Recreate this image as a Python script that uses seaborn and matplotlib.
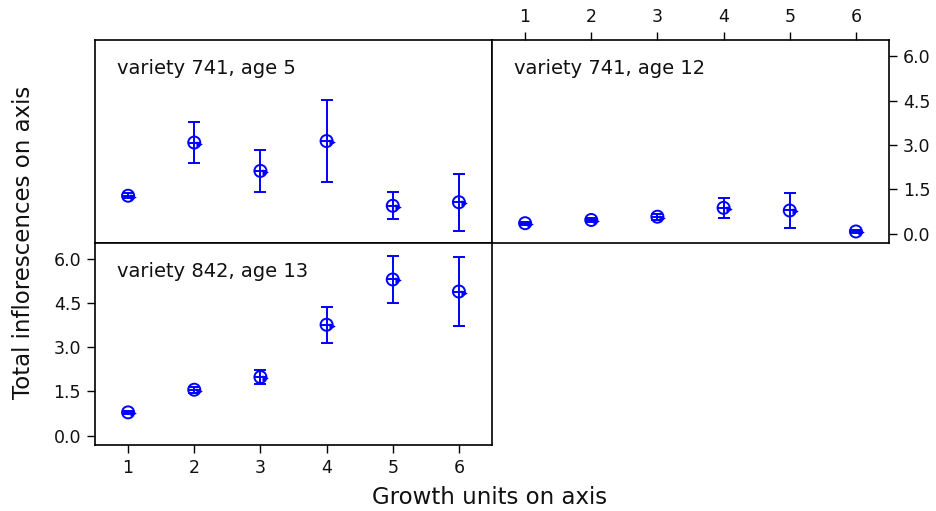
import numpy as np
import pandas as pd
import matplotlib
matplotlib.use("Agg")
import matplotlib.pyplot as plt
import matplotlib.transforms as mtransforms
import seaborn as sns

# Growth units along the axis
growth_units = [1, 2, 3, 4, 5, 6]

# Mean total inflorescences and error half-widths per panel
v741_a5_mean = [1.28, 3.08, 2.12, 3.13, 0.94, 1.06]
v741_a5_err = [0.08, 0.68, 0.72, 1.40, 0.45, 0.97]

v741_a12_mean = [0.35, 0.46, 0.57, 0.87, 0.78, 0.07]
v741_a12_err = [0.05, 0.07, 0.10, 0.33, 0.58, 0.05]

v842_a13_mean = [0.79, 1.56, 1.99, 3.77, 5.31, 4.90]
v842_a13_err = [0.06, 0.10, 0.23, 0.62, 0.79, 1.17]

panel_titles = ["variety 741, age 5", "variety 741, age 12", "variety 842, age 13"]
y_ticks = [0.0, 1.5, 3.0, 4.5, 6.0]
y_tick_labels = ["0.0", "1.5", "3.0", "4.5", "6.0"]

sns.set_theme(style="white")
plt.rcParams["font.family"] = ["DejaVu Sans"]

W, H = 937, 511
fig = plt.figure(figsize=(W / 100, H / 100), dpi=100)


def px_axes(x0, y0, x1, y1):
    return fig.add_axes([x0 / W, 1 - y1 / H, (x1 - x0) / W, (y1 - y0) / H])


ax_tl = px_axes(95, 40, 492, 243)
ax_tr = px_axes(492, 40, 889, 243)
ax_bl = px_axes(95, 243, 492, 445)

BLUE = "#0000ff"
panels = [
    (ax_tl, v741_a5_mean, v741_a5_err, panel_titles[0]),
    (ax_tr, v741_a12_mean, v741_a12_err, panel_titles[1]),
    (ax_bl, v842_a13_mean, v842_a13_err, panel_titles[2]),
]

for ax, mean, err, title in panels:
    df = pd.DataFrame({"unit": growth_units, "value": mean, "err": err})
    ax.errorbar(df["unit"], df["value"], yerr=df["err"], fmt="none",
                ecolor=BLUE, elinewidth=1.4, capsize=4.5, capthick=1.4, zorder=2)
    sns.scatterplot(data=df, x="unit", y="value", ax=ax, marker="o", s=75,
                    facecolors="none", edgecolor=BLUE, linewidth=1.4, zorder=3)
    sns.scatterplot(data=df, x="unit", y="value", ax=ax, marker="_", s=75,
                    color=BLUE, linewidth=1.4, zorder=3)
    # small triangle marker drawn just right of each point
    shift = mtransforms.ScaledTranslation(5 / 100, -1 / 100, fig.dpi_scale_trans)
    ax.scatter(df["unit"], df["value"], marker=">", s=14, color=BLUE,
               edgecolors=BLUE, linewidths=0.6, zorder=4,
               transform=ax.transData + shift)
    ax.set_xlim(0.5, 6.5)
    ax.set_ylim(-0.32, 6.55)
    ax.set_xlabel("")
    ax.set_ylabel("")
    for sp in ax.spines.values():
        sp.set_visible(True)
        sp.set_color("black")
        sp.set_linewidth(1.2)
    ax.text(0.055, 0.86, title, transform=ax.transAxes, fontsize=14,
            color="#111111", va="center", ha="left")
    ax.tick_params(axis="both", which="both", direction="out", length=6,
                   width=1, color="black", labelsize=12.5, labelcolor="#111111",
                   bottom=False, top=False, left=False, right=False,
                   labelbottom=False, labeltop=False, labelleft=False,
                   labelright=False)
    ax.set_xticks(growth_units)
    ax.set_yticks(y_ticks)

ax_tl.set_xticklabels([])
ax_tl.set_yticklabels([])

ax_tr.set_xticklabels([str(u) for u in growth_units])
ax_tr.set_yticklabels(y_tick_labels)
ax_tr.tick_params(top=True, labeltop=True, right=True, labelright=True, pad=4)

ax_bl.set_xticklabels([str(u) for u in growth_units])
ax_bl.set_yticklabels(y_tick_labels)
ax_bl.tick_params(bottom=True, labelbottom=True, left=True, labelleft=True, pad=4)

fig.text(490 / W, 1 - 497 / H, "Growth units on axis", ha="center", va="center",
         fontsize=16.5, color="#111111")
fig.text(24 / W, 1 - 242 / H, "Total inflorescences on axis", ha="center",
         va="center", rotation=90, fontsize=16.5, color="#111111")

fig.savefig("out.png", dpi=100)
